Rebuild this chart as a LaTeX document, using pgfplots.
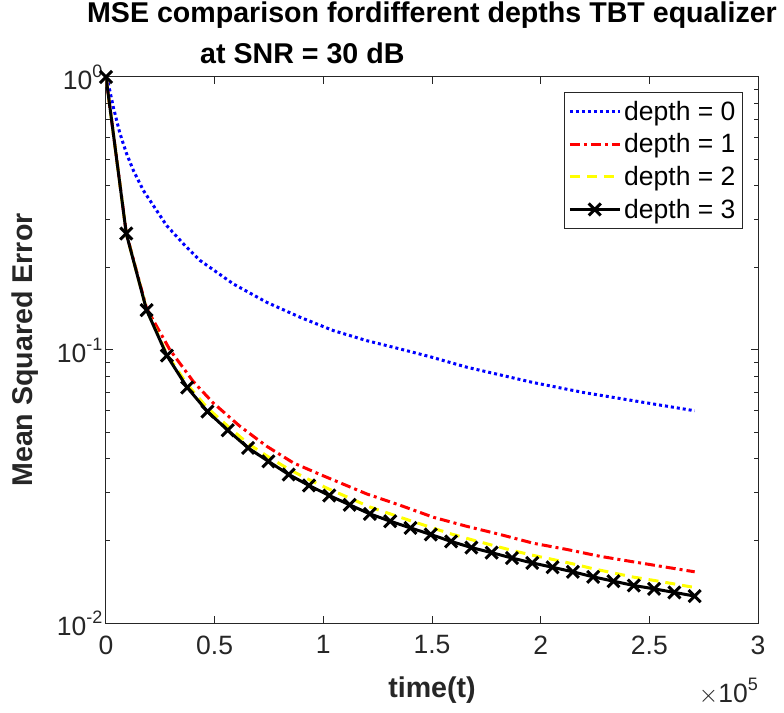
\documentclass[border=0pt]{standalone}
\usepackage{fontspec}
\setmainfont{Liberation Sans}
\usepackage{pgfplots}
\pgfplotsset{compat=1.18}
\definecolor{axgray}{RGB}{38,38,38}
\newcommand{\tsup}[1]{\raisebox{12pt}{\fontsize{18}{18}\selectfont #1}}
\newcommand{\tickfont}{\fontsize{26.5}{30}\selectfont}
\newcommand{\labfont}{\bfseries\fontsize{28.6}{32}\selectfont}
\begin{document}
\begin{tikzpicture}
\begin{axis}[
  scale only axis, width=652pt, height=546pt,
  xmin=0, xmax=300000, ymin=0.01, ymax=1,
  ymode=log,
  xtick={0,50000,100000,150000,200000,250000,300000},
  xticklabels={0,0.5,1,1.5,2,2.5,3},
  scaled x ticks=false,
  ytick={0.01,0.1,1},
  yticklabels={10\tsup{-2},10\tsup{-1},10\tsup{0}},
  tick align=inside, major tick length=7pt, minor tick length=4pt,
  axis line style={axgray, line width=1pt},
  every tick/.style={axgray, line width=1pt},
  tick label style={font=\tickfont, text=axgray},
  xticklabel style={yshift=-9pt},
  xlabel={time(t)},
  xlabel style={at={(axis description cs:0.5,0)}, anchor=base, yshift=-74pt, font=\labfont, text=axgray},
  ylabel={Mean Squared Error},
  ylabel style={at={(axis description cs:0,0.5)}, anchor=base, yshift=73pt, font=\labfont, text=axgray},
  title={MSE comparison fordifferent depths TBT equalizer},
  title style={at={(axis description cs:0.5,1)}, anchor=base, yshift=48pt, font=\labfont, inner sep=0pt},
  legend style={at={(1,1)}, anchor=north east, xshift=-15pt, yshift=-15pt,
    draw=axgray, line width=1pt, font=\tickfont, inner sep=4pt, row sep=3pt,
    nodes={inner xsep=3pt, inner ysep=4.5pt}, cells={anchor=west}},
  legend image code/.code={\draw[mark repeat=2,mark phase=2,#1] plot coordinates {(0pt,0pt) (25pt,0pt) (50pt,0pt)};},
]
% depth = 0
\addplot[color={rgb,1:red,0;green,0;blue,1}, line width=3pt, dash pattern=on 3pt off 3pt] coordinates {
(0,1.0) (1070,0.945) (3370,0.776) (6440,0.620) (9500,0.523) (12580,0.455)
(17200,0.384) (21800,0.338) (27900,0.2857) (35600,0.245) (43260,0.2128)
(58600,0.1746) (73900,0.1496) (89300,0.1318) (104600,0.1178) (120000,0.1082)
(135300,0.1009) (149100,0.0945) (166000,0.0865) (196600,0.0760) (219600,0.0699)
(242700,0.0652) (270860,0.0599)
};
\addlegendentry{depth = 0}
% depth = 1
\addplot[color={rgb,1:red,1;green,0;blue,0}, line width=3pt, dash pattern=on 10pt off 4pt on 3pt off 4pt] coordinates {
(0,1.0) (9340,0.268) (18680,0.142) (29450,0.100) (40200,0.0766) (49400,0.0639)
(61700,0.0525) (73950,0.0444) (86200,0.0386) (98500,0.0350) (120000,0.0297)
(135300,0.0270) (150600,0.0244) (166000,0.0226) (181300,0.0211) (196600,0.0196)
(212000,0.0186) (227300,0.01755) (242700,0.01675) (258000,0.01600) (270860,0.01540)
};
\addlegendentry{depth = 1}
% depth = 2
\addplot[color={rgb,1:red,1;green,1;blue,0}, line width=3pt, dash pattern=on 10pt off 7pt] coordinates {
(0,1.0) (9340,0.267) (18680,0.1405) (28020,0.0965) (37360,0.0748) (46700,0.0613)
(56040,0.0526) (65380,0.0454) (74720,0.0406) (84060,0.0366) (93400,0.0335)
(102740,0.0309) (112080,0.0287) (121420,0.0266) (130760,0.0251) (140100,0.0237)
(149440,0.0224) (158780,0.0212) (168120,0.0202) (177460,0.0193) (186800,0.01845)
(196140,0.01772) (205480,0.01710) (214820,0.01647) (224160,0.01580) (233500,0.01525)
(242840,0.01472) (252180,0.01432) (261520,0.01390) (270860,0.01349)
};
\addlegendentry{depth = 2}
% depth = 3
\addplot[color=black, line width=3pt, mark=x, mark size=8.5pt, mark options={solid, line width=3pt}] coordinates {
(0,1.0) (9340,0.267) (18680,0.140) (28020,0.0954) (37360,0.0729) (46700,0.0595)
(56040,0.0508) (65380,0.0438) (74720,0.0391) (84060,0.0350) (93400,0.0319)
(102740,0.0293) (112080,0.0271) (121420,0.0251) (130760,0.0236) (140100,0.0223)
(149440,0.0211) (158780,0.0199) (168120,0.0189) (177460,0.0181) (186800,0.0173)
(196140,0.0166) (205480,0.0160) (214820,0.0154) (224160,0.01476) (233500,0.01423)
(242840,0.01372) (252180,0.01334) (261520,0.01294) (270860,0.01255)
};
\addlegendentry{depth = 3}
\end{axis}
\node[anchor=base west, font=\labfont, inner sep=0pt] at ([xshift=94pt, yshift=13pt]current axis.north west) {at SNR = 30 dB};
\node[anchor=base east, font=\tickfont, text=axgray, inner sep=0pt] at ([yshift=-80pt]current axis.south east) {$\times$10\tsup{5}};
\pgfresetboundingbox
\path ([xshift=-106pt,yshift=-90pt]current axis.south west) rectangle ([xshift=26pt,yshift=77pt]current axis.north east);
\end{tikzpicture}
\end{document}
